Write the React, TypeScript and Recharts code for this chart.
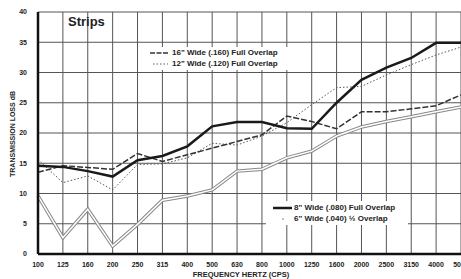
import { LineChart, Line, XAxis, YAxis, CartesianGrid } from "recharts";

const frequencies = ["100", "125", "160", "200", "250", "315", "400", "500", "630", "800", "1000", "1250", "1600", "2000", "2500", "3150", "4000", "5000"];

const wide16 = [13.5, 14.6, 14.3, 14.0, 16.6, 15.3, 16.4, 17.5, 18.6, 19.7, 22.8, 21.9, 20.7, 23.5, 23.5, 24.0, 24.5, 26.3];
const wide12 = [15.6, 11.8, 12.9, 10.6, 14.8, 14.9, 15.9, 18.3, 18.0, 19.5, 21.7, 24.7, 27.5, 27.7, 29.6, 31.3, 32.9, 34.2];
const wide8 = [14.6, 14.4, 13.7, 12.8, 15.5, 16.2, 17.8, 21.1, 21.8, 21.8, 20.8, 20.7, 25.0, 28.8, 30.8, 32.4, 34.9, 34.9];
const wide6 = [9.6, 2.7, 7.4, 1.3, 4.9, 8.9, 9.6, 10.6, 13.7, 14.0, 15.9, 17.0, 19.5, 21.0, 21.9, 22.7, 23.5, 24.3];

const yTicks = [0, 5, 10, 15, 20, 25, 30, 35, 40];

const data = frequencies.map((f, i) => ({
  freq: f,
  w16: wide16[i],
  w12: wide12[i],
  w8: wide8[i],
  w6: wide6[i],
}));

const font = '"Liberation Sans", Arial, sans-serif';
const tickStyle = { fontSize: 7, fontWeight: 700, fill: "#222", fontFamily: font };

const legendText: React.CSSProperties = {
  position: "absolute",
  fontFamily: font,
  fontSize: 8,
  fontWeight: 700,
  color: "#222",
  whiteSpace: "nowrap",
  lineHeight: "10px",
};

export default function App() {
  return (
    <div
      style={{
        position: "fixed",
        left: 0,
        top: 0,
        width: 461,
        height: 279,
        overflow: "hidden",
        background: "#fff",
      }}
    >
      <LineChart
        width={470}
        height={279}
        data={data}
        margin={{ top: 12, right: 9, bottom: 0, left: 0 }}
      >
        <CartesianGrid stroke="#555" strokeWidth={1} />
        <XAxis
          dataKey="freq"
          interval={0}
          tickLine={false}
          axisLine={{ stroke: "#111", strokeWidth: 2.5 }}
          tick={tickStyle}
          tickMargin={2}
          height={25}
        />
        <YAxis
          domain={[0, 40]}
          ticks={yTicks}
          tickLine={false}
          axisLine={{ stroke: "#111", strokeWidth: 2.5 }}
          tick={tickStyle}
          tickMargin={5}
          width={38}
        />
        <Line dataKey="w6" stroke="#888" strokeWidth={3.5} dot={false} isAnimationActive={false} />
        <Line dataKey="w6" stroke="#fff" strokeWidth={1.5} dot={false} isAnimationActive={false} />
        <Line dataKey="w12" stroke="#555" strokeWidth={1} strokeDasharray="1.5 2" dot={false} isAnimationActive={false} />
        <Line dataKey="w16" stroke="#333" strokeWidth={1.5} strokeDasharray="6 2" dot={false} isAnimationActive={false} />
        <Line dataKey="w8" stroke="#1a1a1a" strokeWidth={2.5} dot={false} isAnimationActive={false} />
      </LineChart>

      <div style={{ ...legendText, left: 68, top: 17, fontSize: 13 }}>Strips</div>

      <div style={{ position: "absolute", left: 148, top: 47, width: 140, height: 23, background: "#fff" }} />
      <svg style={{ position: "absolute", left: 150, top: 50 }} width={20} height={16}>
        <line x1={0} y1={3} x2={18} y2={3} stroke="#333" strokeWidth={1.5} strokeDasharray="5 1.5" />
        <line x1={3} y1={14} x2={18} y2={14} stroke="#555" strokeWidth={1} strokeDasharray="1.5 2" />
      </svg>
      <div style={{ ...legendText, left: 172, top: 48 }}>16" Wide (.160) Full Overlap</div>
      <div style={{ ...legendText, left: 172, top: 59 }}>12" Wide (.120) Full Overlap</div>

      <div style={{ position: "absolute", left: 266, top: 201, width: 142, height: 24, background: "#fff" }} />
      <svg style={{ position: "absolute", left: 272, top: 204 }} width={22} height={18}>
        <line x1={1} y1={4} x2={20} y2={4} stroke="#1a1a1a" strokeWidth={2.5} />
        <circle cx={11} cy={15} r={0.8} fill="#777" />
      </svg>
      <div style={{ ...legendText, left: 294, top: 203 }}>8" Wide (.080) Full Overlap</div>
      <div style={{ ...legendText, left: 294, top: 214 }}>6" Wide (.040) ½ Overlap</div>

      <div
        style={{
          ...legendText,
          fontSize: 7,
          left: 13,
          top: 134,
          transform: "translate(-50%, -50%) rotate(-90deg)",
        }}
      >
        TRANSMISSION LOSS dB
      </div>
      <div style={{ ...legendText, fontSize: 7.5, left: 241, top: 270, transform: "translateX(-50%)" }}>
        FREQUENCY HERTZ (CPS)
      </div>
    </div>
  );
}
